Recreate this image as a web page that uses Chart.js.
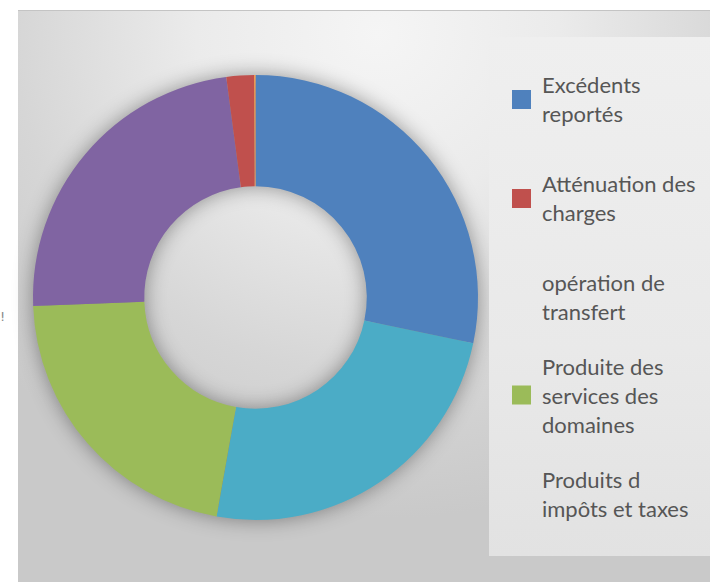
<!DOCTYPE html>
<html lang="fr">
<head>
<meta charset="utf-8">
<script src="https://cdn.jsdelivr.net/npm/chart.js@4.4.1/dist/chart.umd.min.js"></script>
<style>
  html, body { margin: 0; padding: 0; background: #ffffff; }
  body { width: 710px; height: 582px; position: relative; overflow: hidden; font-family: Lato, "Open Sans", sans-serif; }
  #frame {
    position: absolute; left: 18px; top: 10px; right: 0; bottom: 0;
    border-top: 1px solid #c4c4c4;
    background: radial-gradient(ellipse 75% 85% at 52% 4%, #f5f5f5 0%, #ebebeb 35%, #d6d6d6 70%, #c9c9c9 100%);
  }
  #chart-box { position: absolute; left: 13px; top: 55px; width: 485px; height: 485px; }
  #chart-box canvas { filter: drop-shadow(0 0 10px rgba(0,0,0,0.38)); }
  #legend {
    position: absolute; left: 489px; top: 37px; width: 221px; height: 519px;
    background: linear-gradient(to bottom, #efefef 0%, #e9e9e9 60%, #e2e2e2 100%);
  }
  .entry { position: absolute; left: 0; display: flex; align-items: center; transform: translateY(-50%); }
  .swatch { width: 19px; height: 19px; margin-left: 23px; margin-right: 11px; flex: none; }
  .label { font-size: 22px; line-height: 29px; color: #565656; white-space: nowrap; }
  #edge { position: absolute; left: 0; top: 309px; font-size: 13px; color: #8a8a8a; font-family: "DejaVu Sans", sans-serif; }
</style>
</head>
<body>
<div id="frame"></div>
<div id="edge">!</div>
<div id="chart-box"><canvas id="donut"></canvas></div>
<div id="legend"></div>
<script>
// slices, clockwise from 12 o'clock (share of total, %)
const sliceLabels = ['Excédents reportés', '', 'Produite des services des domaines', '', 'Atténuation des charges', ''];
const sliceValues = [28.3, 24.5, 21.6, 23.5, 2.0, 0.1];
const sliceColors = ['#4F81BD', '#4BACC6', '#9BBB59', '#8064A2', '#C0504D', '#F79646'];

// legend as it shows in the picture
const legendLines = [
  ['Excédents', 'reportés'],
  ['Atténuation des', 'charges'],
  ['opération de', 'transfert'],
  ['Produite des', 'services des', 'domaines'],
  ['Produits d', 'impôts et taxes']
];
const legendColors = ['#4F81BD', '#C0504D', null, '#9BBB59', null];
const legendCenters = [99, 198, 296.5, 395, 493.5];

const legendEl = document.getElementById('legend');
legendLines.forEach((lines, i) => {
  const row = document.createElement('div');
  row.className = 'entry';
  row.style.top = (legendCenters[i] - 37) + 'px';
  const sw = document.createElement('div');
  sw.className = 'swatch';
  sw.style.background = legendColors[i] || 'transparent';
  const txt = document.createElement('div');
  txt.className = 'label';
  txt.innerHTML = lines.join('<br>');
  row.appendChild(sw);
  row.appendChild(txt);
  legendEl.appendChild(row);
});

new Chart(document.getElementById('donut').getContext('2d'), {
  type: 'doughnut',
  data: {
    labels: sliceLabels,
    datasets: [{
      data: sliceValues,
      backgroundColor: sliceColors,
      borderWidth: 0
    }]
  },
  options: {
    responsive: true,
    maintainAspectRatio: false,
    cutout: '50%',
    layout: { padding: 20 },
    plugins: { legend: { display: false }, tooltip: { enabled: false } },
    animation: false
  }
});
</script>
</body>
</html>
